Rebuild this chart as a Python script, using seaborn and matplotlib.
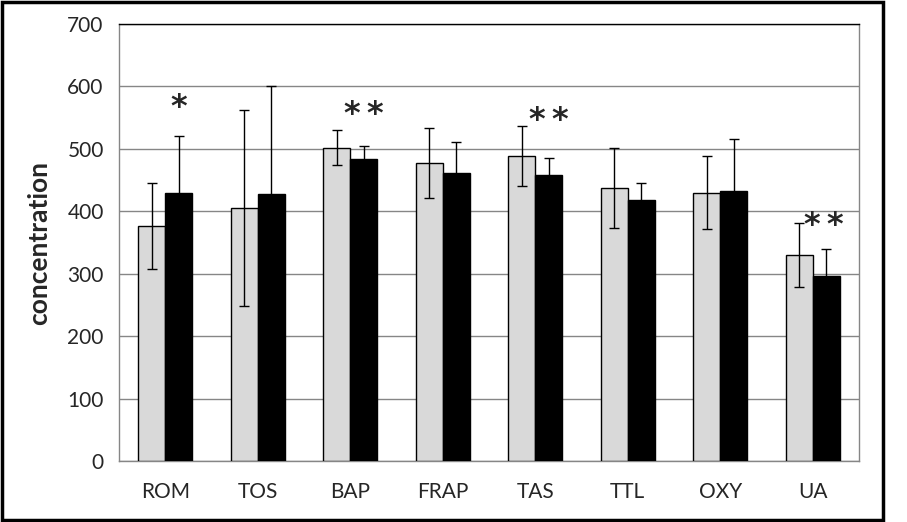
import numpy as np
import pandas as pd
import matplotlib
matplotlib.use('Agg')
import matplotlib.pyplot as plt
import seaborn as sns

# dados
categorias = ['ROM', 'TOS', 'BAP', 'FRAP', 'TAS', 'TTL', 'OXY', 'UA']
grupo_a = [377, 406, 502, 478, 488, 438, 430, 330]
erro_a = [69, 157, 28, 56, 48, 64, 58, 52]
grupo_b = [430, 428, 483, 461, 458, 418, 432, 296]
erro_b = [91, 172, 22, 50, 28, 28, 83, 43]
asteriscos = ['*', '', '**', '', '**', '', '', '**']

sns.set_style('white')
plt.rcParams['font.family'] = ['Lato', 'DejaVu Sans']

df = pd.DataFrame({
    'cat': categorias * 2,
    'valor': grupo_a + grupo_b,
    'grupo': ['A'] * len(categorias) + ['B'] * len(categorias),
})

fig = plt.figure(figsize=(9.07, 5.22), dpi=100)
ax = fig.add_axes([119 / 907, 1 - 461 / 522, 740 / 907, 437 / 522])

sns.barplot(data=df, x='cat', y='valor', hue='grupo', order=categorias,
            palette={'A': '#d9d9d9', 'B': 'black'}, width=0.58, gap=0,
            errorbar=None, edgecolor='black', linewidth=1, legend=False, ax=ax, zorder=3)

# barras de erro
n = len(categorias)
patches = ax.patches[:2 * n]
xa = [p.get_x() + p.get_width() / 2 for p in patches[:n]]
xb = [p.get_x() + p.get_width() / 2 for p in patches[n:]]
ax.errorbar(xa, grupo_a, yerr=erro_a, fmt='none', ecolor='black', elinewidth=1,
            capsize=3.5, capthick=1, zorder=4)
ax.errorbar(xb, grupo_b, yerr=erro_b, fmt='none', ecolor='black', elinewidth=1,
            capsize=3.5, capthick=1, zorder=4)

# significância
posy = [566, None, 555, None, 546, None, None, 377]
for i, s in enumerate(asteriscos):
    if s:
        ax.text(xb[i] - 0.03 * (i == 7), posy[i], '\u2009'.join(s), ha='center', va='center',
                fontsize=23, fontweight='bold', family='DejaVu Sans', zorder=5)

ax.set_ylim(0, 700)
ax.set_xlim(-0.5, n - 0.5)
ax.set_yticks(np.arange(0, 701, 100))
ax.yaxis.grid(True, color='#868686', linewidth=1)
ax.set_axisbelow(True)
ax.set_xticks(np.arange(n))
ax.set_xticklabels(categorias, fontsize=15)
ax.set_xticks(np.arange(-0.5, n, 1), minor=True)
ax.tick_params(axis='x', which='major', length=0, pad=15)
ax.tick_params(axis='x', which='minor', length=6, color='#868686', direction='out')
ax.tick_params(axis='y', length=6, color='#868686', direction='out', labelsize=15, pad=5)
ax.set_xlabel('')
ax.set_ylabel('concentration', fontsize=19, fontweight='bold', labelpad=12)

for lado in ['left', 'bottom', 'right']:
    ax.spines[lado].set_color('#868686')
ax.spines['top'].set_color('black')
for sp in ax.spines.values():
    sp.set_linewidth(1)

# moldura da figura
fig.patches.append(plt.Rectangle((1.5 / 907, 1 - 520 / 522), 881 / 907, 518 / 522,
                                 transform=fig.transFigure, fill=False,
                                 edgecolor='black', linewidth=2.5))

fig.savefig('out.png', dpi=100)
